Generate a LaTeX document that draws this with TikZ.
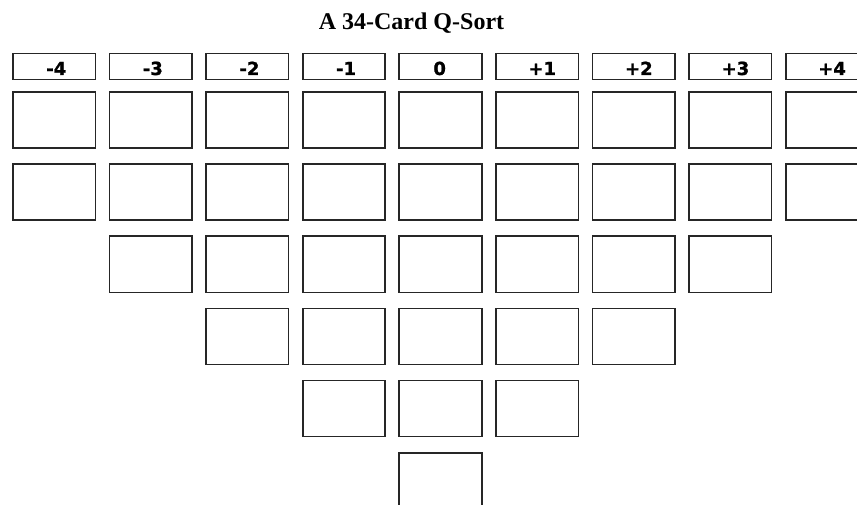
\documentclass[tikz,border=0pt]{standalone}
\usepackage{fontspec}
\setmainfont{Liberation Serif}
\newfontfamily\labelfont{DejaVu Sans}[BoldFeatures={FakeBold=1.2}]
\begin{document}
\begin{tikzpicture}[x=1pt,y=-1pt,
  card/.style={draw=black!85, line width=1.7pt, minimum width=82.5pt,
    minimum height=56pt, inner sep=0pt, anchor=north west, fill=white},
  headbox/.style={card, minimum height=26pt},
  headtext/.style={font=\labelfont\bfseries\fontsize{18}{18}\selectfont,
    inner sep=0pt, anchor=base},
  titletext/.style={font=\bfseries\fontsize{24}{24}\selectfont,
    inner sep=0pt, anchor=base}]
\useasboundingbox (0,0) rectangle (857,505);
\clip (0,0) rectangle (857,505);
\fill[white] (0,0) rectangle (857,505);
\node[titletext] (title) at (411.5,29.3) {A 34-Card Q-Sort};
\foreach \i/\t/\dx in {0/-4/3, 1/-3/3, 2/-2/3, 3/-1/3, 4/0/0, 5/+1/6, 6/+2/6, 7/+3/6, 8/+4/6} {
  \node[headbox] (h\i) at ({12+96.6*\i},52.7) {};
  \node[headtext] (t\i) at ({12+96.6*\i+41.25+\dx},75) {\t};
}
\foreach \r/\a/\b in {0/0/8, 1/0/8, 2/1/7, 3/2/6, 4/3/5, 5/4/4} {
  \foreach \c in {\a,...,\b} {
    \node[card] (c\r-\c) at ({12+96.6*\c},{91.3+72.1*\r}) {};
  }
}
\end{tikzpicture}
\end{document}
